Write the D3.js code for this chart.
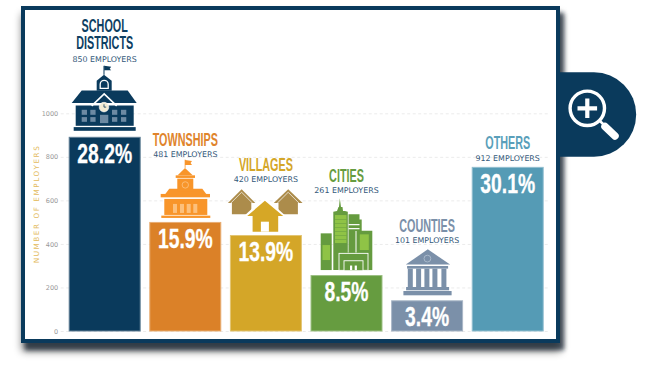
<!DOCTYPE html>
<html>
<head>
<meta charset="utf-8">
<script src="https://cdn.jsdelivr.net/npm/d3@7"></script>
<style>
  html, body { margin: 0; padding: 0; background: #fff; overflow: hidden; }
  svg { display: block; }
  .title { font-family: "Liberation Sans", sans-serif; font-weight: bold; font-size: 18px; text-anchor: middle; }
  .pct { font-family: "Liberation Sans", sans-serif; font-weight: bold; font-size: 28px; fill: #fff; text-anchor: middle; }
  .emp { font-family: "DejaVu Sans", sans-serif; font-size: 7.9px; fill: #34597a; text-anchor: middle; }
  .tick text { font-family: "DejaVu Sans", sans-serif; font-size: 6.5px; fill: #999; }
</style>
</head>
<body>
<svg id="chart" width="650" height="369"></svg>
<script>
const SVG_WIDTH = 650;
const SVG_HEIGHT = 369;
const FRAME = { left: 21, top: 6, right: 560, bottom: 343, border: 4 };
const PLOT = { left: 68.7, right: 543.7, top: 113.3, bottom: 331 };

const categories = ["School Districts", "Townships", "Villages", "Cities", "Counties", "Others"];
// bar heights as drawn in the picture, they do not follow the printed counts
const barValues = [892, 501, 441, 257, 141, 754];
const employers = [850, 481, 420, 261, 101, 912];
const percents = ["28.2%", "15.9%", "13.9%", "8.5%", "3.4%", "30.1%"];
const titleLines = [["SCHOOL", "DISTRICTS"], ["TOWNSHIPS"], ["VILLAGES"], ["CITIES"], ["COUNTIES"], ["OTHERS"]];
const yTicks = [0, 200, 400, 600, 800, 1000];

const barColors = ["#0a3a5c", "#db8128", "#d4a628", "#669c40", "#7b90a9", "#559bb5"];
const titleColors = ["#0e3f63", "#e0842c", "#d4a628", "#669c40", "#7b90a9", "#5a9fba"];

// how far the employer line sits above each bar top, and the gap up to its title
const EMP_OFFSET = [75, 65.3, 53, 81.7, 57.3, 6];
const TITLE_GAP = [12.5, 10.5, 11, 11.3, 10.7, 12];
const TITLE_SQUEEZE = 0.6;
const PCT_SQUEEZE = 0.69;

const svg = d3.select("#chart");

// shadows behind the frame
const defs = svg.append("defs");
defs.append("filter").attr("id", "blurWide")
  .attr("x", "-10%").attr("y", "-10%").attr("width", "120%").attr("height", "125%")
  .append("feGaussianBlur").attr("stdDeviation", 4.5);
defs.append("filter").attr("id", "blurTight")
  .attr("x", "-10%").attr("y", "-10%").attr("width", "120%").attr("height", "125%")
  .append("feGaussianBlur").attr("stdDeviation", 2);

const frameRect = (sel, dx, dy) => sel.append("rect")
  .attr("x", FRAME.left + dx).attr("y", FRAME.top + dy)
  .attr("width", FRAME.right - FRAME.left).attr("height", FRAME.bottom - FRAME.top);

frameRect(svg, 1, 8).attr("fill", "#000").attr("opacity", 0.55).attr("filter", "url(#blurWide)");
frameRect(svg, 4, 7).attr("fill", "#1c2c38").attr("opacity", 0.75).attr("filter", "url(#blurTight)");

// zoom tab on the right side
const tab = svg.append("g");
tab.append("path").attr("fill", "#0a3a5c").attr("d", "M556,72.3H594A42.2,42.2 0 0 1 594,156.7H556Z");
tab.append("circle").attr("cx", 587.3).attr("cy", 108.3).attr("r", 17.2)
  .attr("fill", "none").attr("stroke", "#fff").attr("stroke-width", 3.4);
tab.append("path").attr("d", "M577.5,108.3H597.1M587.3,98.5V118.1")
  .attr("stroke", "#fff").attr("stroke-width", 4.2);
tab.append("path").attr("d", "M600,121L606,127").attr("stroke", "#fff").attr("stroke-width", 2.5);
tab.append("path").attr("d", "M605,126.5L615,136").attr("stroke", "#fff")
  .attr("stroke-width", 7.5).attr("stroke-linecap", "round");

frameRect(svg, 0, 0).attr("fill", "#0a3a5c");
svg.append("rect")
  .attr("x", FRAME.left + FRAME.border).attr("y", FRAME.top + FRAME.border)
  .attr("width", FRAME.right - FRAME.left - 2 * FRAME.border)
  .attr("height", FRAME.bottom - FRAME.top - 2 * FRAME.border)
  .attr("fill", "#fff");

const x_scale = d3.scaleBand().domain(categories).range([PLOT.left, PLOT.right]).paddingInner(0.107).paddingOuter(0);
const y_scale = d3.scaleLinear().domain([0, 1000]).range([PLOT.bottom, PLOT.top]);

// y axis with dashed grid lines
const y_axis = svg.append("g").attr("transform", `translate(${PLOT.left - 8},0)`)
  .call(d3.axisLeft(y_scale).tickValues(yTicks).tickFormat(d3.format("d")).tickSize(0).tickPadding(2.5));
y_axis.select(".domain").remove();
y_axis.selectAll(".tick line")
  .attr("x1", 0).attr("x2", PLOT.right - PLOT.left + 12)
  .attr("stroke", "#ebebeb").attr("stroke-width", 1).attr("stroke-dasharray", "3,2.5");

svg.append("text")
  .attr("transform", `translate(39, ${(148 + 260) / 2}) rotate(-90)`)
  .attr("text-anchor", "middle")
  .style("font-family", "DejaVu Sans")
  .style("font-size", "7.2px")
  .style("letter-spacing", "1.6px")
  .style("fill", "#e3bb5e")
  .text("NUMBER OF EMPLOYERS");

svg.append("g").selectAll("rect")
  .data(categories)
  .join("rect")
  .attr("x", (d) => x_scale(d) + 0.5)
  .attr("y", (d, i) => y_scale(barValues[i]) + 0.5)
  .attr("width", x_scale.bandwidth() - 1)
  .attr("height", (d, i) => y_scale(0) - y_scale(barValues[i]) - 0.5)
  .attr("fill", (d, i) => barColors[i])
  .attr("stroke", (d, i) => d3.interpolateRgb(barColors[i], "#fff")(0.35))
  .attr("stroke-width", 1);

// narrow the text horizontally around its own anchor
const squeeze = (sel, cx, y, sx) => sel.attr("transform", `translate(${cx},${y}) scale(${sx},1)`);

categories.forEach((name, i) => {
  const cx = x_scale(name) + x_scale.bandwidth() / 2;
  const top = y_scale(barValues[i]);
  const empY = top - EMP_OFFSET[i];

  svg.append("text").attr("class", "emp")
    .attr("x", cx).attr("y", empY)
    .text(`${employers[i]} EMPLOYERS`);

  titleLines[i].slice().reverse().forEach((txt, j) => {
    const t = svg.append("text").attr("class", "title").style("fill", titleColors[i]).text(txt);
    squeeze(t, cx, empY - TITLE_GAP[i] - j * 17.8, TITLE_SQUEEZE);
  });

  const p = svg.append("text").attr("class", "pct").attr("stroke", "#fff").attr("stroke-width", 0.3).text(percents[i]);
  squeeze(p, cx, top + 26, PCT_SQUEEZE);

  drawIcon(i, svg.append("g").attr("transform", `translate(${cx},${top})`));
});

function poly(g, pts, fill, stroke, sw) {
  return g.append("path")
    .attr("d", d3.line()(pts) + (stroke && fill === "none" ? "" : "Z"))
    .attr("fill", fill)
    .attr("stroke", stroke || "none")
    .attr("stroke-width", sw || 0);
}
function box(g, x1, y1, x2, y2, fill) {
  return g.append("rect").attr("x", x1).attr("y", y1).attr("width", x2 - x1).attr("height", y2 - y1).attr("fill", fill);
}

function drawIcon(i, g) {
  [schoolIcon, townshipIcon, villageIcon, cityIcon, countyIcon, () => {}][i](g);
}

function schoolIcon(g) {
  const c = "#0a3a5c", w = "#6d8aa3";
  box(g, -31, -9.7, 31, -6, c);
  box(g, -29, -31.3, 29, -11, c);
  poly(g, [[-33, -33.7], [-23, -46.3], [23, -46.3], [32, -33.7]], c);
  poly(g, [[-13, -31], [-0.5, -43], [12, -31]], "none", "#fff", 1.6);
  box(g, -33, -33.2, -13, -32, "#fff");
  box(g, 12, -33.2, 32, -32, "#fff");
  poly(g, [[-8, -46], [-8, -56], [-0.7, -62], [7, -56], [7, -46]], c);
  g.append("path").attr("d", "M-4.5,-48.5V-52.5A4,4 0 0 1 3.5,-52.5V-48.5Z").attr("fill", "none").attr("stroke", "#fff").attr("stroke-width", 1.3);
  box(g, -1.2, -71, -0.2, -62, c);
  poly(g, [[-0.5, -71], [6.5, -70], [5, -68], [6.5, -66.5], [-0.5, -66.5]], c);
  g.append("circle").attr("cx", -0.7).attr("cy", -29.7).attr("r", 4.8).attr("fill", "#f3ecd4").attr("stroke", "#fff").attr("stroke-width", 0.6);
  g.append("path").attr("d", "M-0.7,-32.5V-29.7H1.5").attr("fill", "none").attr("stroke", c).attr("stroke-width", 0.8);
  [-23, -14.4, 7.3, 16.3].forEach((a) => {
    box(g, a, -27, a + 5.3, -22, w);
    box(g, a, -19.7, a + 5.3, -15, w);
  });
  box(g, -4.7, -22, 3.6, -13.7, w);
}

function townshipIcon(g) {
  const c = "#f8952a", w = "#fcc07c";
  box(g, -24, -6.3, 25, -4, c);
  box(g, -21, -23, 22, -7, c);
  box(g, -24.6, -28, 24.7, -24.6, c);
  poly(g, [[-20, -28], [-16, -33.3], [17, -33.3], [21, -28]], c);
  box(g, -8, -43.3, 8, -30, c);
  box(g, -9.6, -46.6, 9.7, -44, c);
  poly(g, [[-7.6, -46.6], [-0.3, -54], [7.4, -46.6]], c);
  g.append("circle").attr("cx", 0).attr("cy", -37).attr("r", 3.2).attr("fill", "none").attr("stroke", w).attr("stroke-width", 0.9);
  box(g, -0.6, -62.3, 0.2, -54, c);
  poly(g, [[-0.3, -62], [6.7, -61], [5.3, -59], [6.7, -57], [-0.3, -57]], c);
  [-12.3, -5.3, 1.4, 8].forEach((a) => box(g, a, -18, a + 4, -9, w));
}

function villageIcon(g) {
  const side = "#ac8c4b", c = "#d6a726";
  [[-24.3, -38, -34], [22.3, 36.7, 32]].forEach(([peak, eave, wall]) => {
    poly(g, [[eave, -32], [peak, -45.7], [peak + (peak - eave), -32]], side);
    poly(g, [[wall, -33], [wall, -20.7], [peak + (peak - wall), -20.7], [peak + (peak - wall), -33], [peak, -43]], side);
  });
  poly(g, [[-38, -32], [-24.3, -45.7], [-10.5, -32]], "none", "#fff", 0.7).attr("transform", "translate(0,3)");
  poly(g, [[8.5, -32], [22.3, -45.7], [36, -32]], "none", "#fff", 0.7).attr("transform", "translate(0,3)");
  poly(g, [[-24, -17], [-1, -38], [22, -17]], "#fff");
  poly(g, [[-18.7, -19], [-1, -34.3], [17.3, -19], [12.3, -19], [12.3, -3.3], [-13.3, -3.3], [-13.3, -19]], c);
  box(g, -5, -13.3, 3, -3.3, "#fff");
}

function cityIcon(g) {
  const c = "#659b3f", w = "#8fc346", s = "#fff";
  box(g, -25.8, -41.7, -14.8, -5, c);
  box(g, -24, -30, -16.5, -15, w);
  poly(g, [[-6.7, -76.7], [-5.5, -68], [-4, -68], [-3.5, -64], [-1.5, -64], [1.3, -63.3], [1.3, -5], [-13.2, -5], [-13.2, -63.3], [-9.5, -64], [-8, -68], [-7.5, -68]], c);
  box(g, -11.5, -60, 0, -32, w);
  for (let k = 1; k < 7; k++) box(g, -11.5, -60 + k * 4, 0, -59.5 + k * 4, c);
  poly(g, [[2, -60.7], [13, -60.7], [13, -55.5], [15.2, -55.5], [15.2, -44], [9, -44], [9, -5], [2, -5]], c);
  box(g, 2, -51, 13, -49.8, s);
  box(g, 2, -47, 13, -45.8, s);
  box(g, 10, -44.3, 25.8, -5, c);
  box(g, 13.3, -40.7, 22.3, -25, w);
  box(g, -8, -22.5, 23, -5, c);
  g.append("rect").attr("x", -7.5).attr("y", -21.7).attr("width", 29).attr("height", 17).attr("fill", c).attr("stroke", s).attr("stroke-width", 0.9);
  g.append("rect").attr("x", -2.5).attr("y", -14.3).attr("width", 19).attr("height", 10).attr("fill", c).attr("stroke", s).attr("stroke-width", 0.9);
  box(g, 3.5, -9.5, 5.7, -5, s);
  box(g, 8.2, -9.5, 10.4, -5, s);
}

function countyIcon(g) {
  const c = "#7b90a9";
  poly(g, [[0.7, -51], [-21.3, -35.7], [23, -35.7]], c);
  g.append("circle").attr("cx", 0.3).attr("cy", -41.7).attr("r", 3.4).attr("fill", "none").attr("stroke", "#a8b8ca").attr("stroke-width", 1);
  box(g, -20, -34.3, 21, -31.7, c);
  [-19.3, -11, -2.7, 5.3, 14.3].forEach((a) => box(g, a, -31.7, a + 5, -13.3, c));
  box(g, -21, -13.3, 22, -10, c);
  box(g, -23.7, -9.3, 24.5, -5, c);
}
</script>
</body>
</html>
